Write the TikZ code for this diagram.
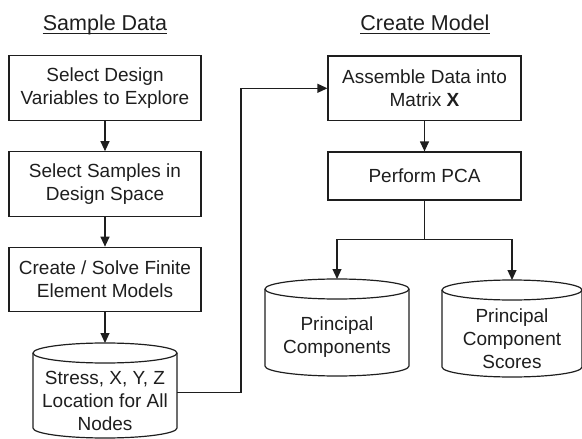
\documentclass[tikz,border=0pt]{standalone}
\usepackage{fontspec}
\setmainfont{Liberation Sans}
\usetikzlibrary{arrows.meta}
\definecolor{ink}{RGB}{30,30,30}
\tikzset{
  line/.style={draw=ink, line width=1.2pt},
  arr/.style={line, -{Triangle[length=10pt,width=9pt]}},
  stepbox/.style={line, rectangle, minimum width=192pt, minimum height=64.5pt, inner sep=2pt, align=center, text=ink, font=\fontsize{19}{23}\selectfont},
  cyltext/.style={rectangle, inner sep=0pt, outer sep=0pt, minimum width=#1, align=center, text=ink, font=\fontsize{19}{23}\selectfont},
  title/.style={inner sep=0pt, anchor=base, text=ink, font=\fontsize{21.5}{25}\selectfont},
}
\newcommand\cylout[2]{%
  \draw[line] ([yshift=10pt]#1.north) ellipse[x radius=#2, y radius=10pt];
  \draw[line] ([yshift=10pt]#1.north west) -- ([yshift=10pt]#1.south west)
     arc[start angle=180, end angle=360, x radius=#2, y radius=10pt]
     -- ([yshift=10pt]#1.north east);
}
\begin{document}
\begin{tikzpicture}[x=1pt,y=-1pt]
\useasboundingbox (0,0) rectangle (582,439);
% titles
\node[title] (t1) at (105,30.5) {Sample Data};
\node[title] (t2) at (425,30.5) {Create Model};
\draw[ink, line width=1.1pt] ([yshift=-2.6pt]t1.base west) -- ([yshift=-2.6pt]t1.base east);
\draw[ink, line width=1.1pt] ([yshift=-2.6pt]t2.base west) -- ([yshift=-2.6pt]t2.base east);
% left column
\node[stepbox] (b1) at (105,88) {Select Design\\Variables to Explore};
\node[stepbox] (b2) at (105,184) {Select Samples in\\Design Space};
\node[stepbox] (b3) at (105,279.5) {Create / Solve Finite\\Element Models};
\node[cyltext=144pt, minimum height=75pt] (c1) at (105,400.5) {Stress, X, Y, Z\\Location for All\\Nodes};
\cylout{c1}{72pt}
% right column
\node[stepbox, minimum width=193pt] (b4) at (424.5,88.3) {Assemble Data into\\Matrix \textbf{X}};
\node[stepbox, minimum width=193pt, minimum height=48pt] (b5) at (424.5,176) {Perform PCA};
\node[cyltext=144pt, minimum height=77pt] (c2) at (337,337.5) {Principal\\Components};
\cylout{c2}{72pt}
\node[cyltext=140pt, minimum height=77pt] (c3) at (512,338.5) {Principal\\Component\\Scores};
\cylout{c3}{70pt}
% connectors
\draw[arr] (b1) -- (b2);
\draw[arr] (b2) -- (b3);
\draw[arr] (b3.south) -- ([yshift=20pt]c1.north);
\draw[arr] ([yshift=8pt]c1.east) -- ++(64,0) |- (b4.west);
\draw[arr] (b4) -- (b5);
\coordinate (split) at ([yshift=-39pt]b5.south);
\draw[arr] (b5.south) -- (split) -| ([yshift=20pt]c2.north);
\draw[arr] (split) -| ([yshift=20pt]c3.north);
\end{tikzpicture}
\end{document}
